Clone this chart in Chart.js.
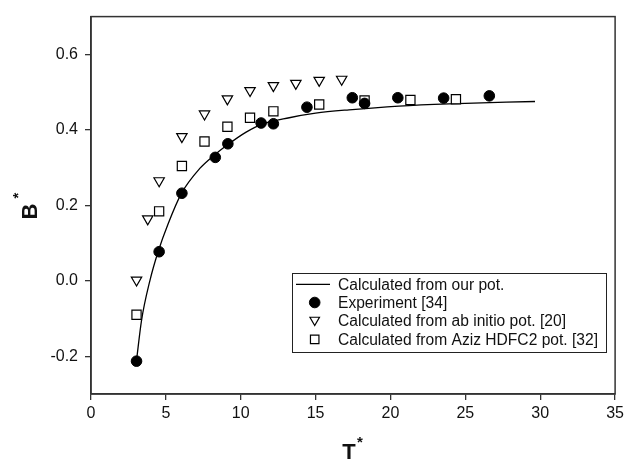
<!DOCTYPE html>
<html>
<head>
<title>B* vs T*</title>
<script src="https://cdn.jsdelivr.net/npm/chart.js@4/dist/chart.umd.min.js"></script>
<style>
  html, body { margin: 0; padding: 0; background: #fff; }
  #wrap { width: 628px; height: 459px; }
</style>
</head>
<body>
<div id="wrap"><canvas id="myChart" width="628" height="459"></canvas></div>
<script>
// curve: calculated from our pot.
const lineT = [3.04, 3.37, 3.93, 4.48, 5.14, 6.03, 7.25, 8.3, 9.14, 10.36, 11.36, 13.24, 15.0, 17.23, 20.56, 23.9, 29.65];
const lineB = [-0.211, -0.106, 0.0, 0.077, 0.15, 0.231, 0.297, 0.335, 0.361, 0.394, 0.414, 0.432, 0.444, 0.453, 0.463, 0.469, 0.475];

// Experiment [34]
const expT = [3.04, 4.55, 6.07, 8.3, 9.14, 11.36, 12.18, 14.42, 17.45, 18.27, 20.49, 23.55, 26.6];
const expB = [-0.213, 0.077, 0.232, 0.327, 0.363, 0.418, 0.416, 0.46, 0.485, 0.47, 0.485, 0.484, 0.49];

// ab initio pot. [20]
const abT = [3.04, 3.79, 4.55, 6.07, 7.58, 9.11, 10.62, 12.18, 13.68, 15.24, 16.74];
const abB = [0.002, 0.164, 0.265, 0.382, 0.442, 0.482, 0.504, 0.517, 0.523, 0.531, 0.534];

// Aziz HDFC2 pot. [32]
const azT = [3.04, 4.55, 6.07, 7.58, 9.11, 10.62, 12.18, 15.24, 18.27, 21.33, 24.37];
const azB = [-0.09, 0.184, 0.304, 0.369, 0.408, 0.432, 0.449, 0.467, 0.478, 0.479, 0.481];

const xTicks = [0, 5, 10, 15, 20, 25, 30, 35];
const yTicks = [-0.2, 0.0, 0.2, 0.4, 0.6];

function pts(xs, ys) {
    return xs.map((x, i) => ({ x: x, y: ys[i] }));
}

const FONT = "'Liberation Sans', Arial, Helvetica, sans-serif";

function legendMarker(ctx, ds, x, y) {
    ctx.save();
    ctx.fillStyle = ds.backgroundColor;
    ctx.strokeStyle = ds.borderColor;
    ctx.lineWidth = ds.borderWidth;
    Chart.helpers.drawPoint(ctx, {
        pointStyle: ds.pointStyle,
        rotation: ds.rotation || 0,
        radius: ds.legendRadius,
        borderWidth: ds.borderWidth
    }, x, y);
    ctx.restore();
}

// frame, axis titles and the boxed legend
const decor = {
    id: 'decor',
    afterDraw(chart) {
        const ctx = chart.ctx;
        const a = chart.chartArea;
        ctx.save();
        ctx.strokeStyle = '#333';
        ctx.lineWidth = 1.5;
        ctx.strokeRect(a.left, a.top, a.right - a.left, a.bottom - a.top);

        ctx.fillStyle = '#111';
        ctx.textAlign = 'center';
        ctx.textBaseline = 'alphabetic';
        ctx.font = 'bold 22px ' + FONT;
        ctx.fillText('T', 349, 459);
        ctx.font = 'bold 15px ' + FONT;
        ctx.fillText('*', 360, 447);

        ctx.save();
        ctx.translate(37, 211.5);
        ctx.rotate(-Math.PI / 2);
        ctx.font = 'bold 22px ' + FONT;
        ctx.fillText('B', 0, 0);
        ctx.font = 'bold 15px ' + FONT;
        ctx.fillText('*', 16, -14);
        ctx.restore();

        // legend
        const lx = 292, ly = 273, lw = 314, lh = 79;
        ctx.fillStyle = '#fff';
        ctx.fillRect(lx, ly, lw, lh);
        ctx.strokeStyle = '#222';
        ctx.lineWidth = 1;
        ctx.strokeRect(lx + 0.5, ly + 0.5, lw, lh);
        const rows = [284.3, 302.5, 321, 339.3];
        ctx.font = '15.6px ' + FONT;
        ctx.textAlign = 'left';
        ctx.textBaseline = 'middle';
        chart.data.datasets.forEach((ds, i) => {
            const y = rows[i];
            if (ds.showLine) {
                ctx.strokeStyle = '#000';
                ctx.lineWidth = 1.3;
                ctx.beginPath();
                ctx.moveTo(296, y);
                ctx.lineTo(330, y);
                ctx.stroke();
            } else {
                legendMarker(ctx, ds, 314.7, y + (ds.pointStyle === 'triangle' ? -1 : 0));
            }
            ctx.fillStyle = '#111';
            ctx.fillText(ds.label, 338, y + 1);
        });
        ctx.restore();
    }
};

new Chart(document.getElementById('myChart'), {
    type: 'scatter',
    data: {
        datasets: [
            {
                label: 'Calculated from our pot.',
                data: pts(lineT, lineB),
                showLine: true,
                borderColor: '#000',
                borderWidth: 1.3,
                pointRadius: 0,
                cubicInterpolationMode: 'monotone',
                order: 4
            },
            {
                label: 'Experiment [34]',
                data: pts(expT, expB),
                pointStyle: 'circle',
                pointRadius: 5.3,
                backgroundColor: '#000',
                borderColor: '#000',
                borderWidth: 1,
                legendRadius: 5.3,
                order: 1
            },
            {
                label: 'Calculated from ab initio pot. [20]',
                data: pts(abT, abB),
                pointStyle: 'triangle',
                rotation: 180,
                pointRadius: 6,
                backgroundColor: '#fff',
                borderColor: '#000',
                borderWidth: 1.2,
                legendRadius: 5.5,
                order: 2
            },
            {
                label: 'Calculated from Aziz HDFC2 pot. [32]',
                data: pts(azT, azB),
                pointStyle: 'rect',
                pointRadius: 6.5,
                backgroundColor: '#fff',
                borderColor: '#000',
                borderWidth: 1.2,
                legendRadius: 6,
                order: 3
            }
        ]
    },
    options: {
        responsive: false,
        animation: false,
        events: [],
        layout: { padding: { left: 0, right: 11, top: 15, bottom: 0 } },
        plugins: {
            legend: { display: false },
            tooltip: { enabled: false }
        },
        scales: {
            x: {
                type: 'linear',
                min: 0,
                max: 35,
                afterBuildTicks: s => { s.ticks = xTicks.map(v => ({ value: v })); },
                afterFit: s => { s.height = 65; },
                ticks: {
                    color: '#111',
                    font: { family: FONT, size: 16 },
                    padding: 4,
                    maxRotation: 0,
                    callback: v => String(v)
                },
                grid: { display: true, drawOnChartArea: false, drawTicks: true, tickLength: 6, color: '#333', lineWidth: 1.3 },
                border: { display: true, color: '#333', width: 1.5 }
            },
            y: {
                type: 'linear',
                min: -0.3,
                max: 0.7,
                afterBuildTicks: s => { s.ticks = yTicks.map(v => ({ value: v })); },
                afterFit: s => { s.width = 91; },
                ticks: {
                    color: '#111',
                    font: { family: FONT, size: 16 },
                    padding: 7,
                    callback: v => v.toFixed(1)
                },
                grid: { display: true, drawOnChartArea: false, drawTicks: true, tickLength: 6, color: '#333', lineWidth: 1.3 },
                border: { display: true, color: '#333', width: 1.5 }
            }
        }
    },
    plugins: [decor]
});
</script>
</body>
</html>
